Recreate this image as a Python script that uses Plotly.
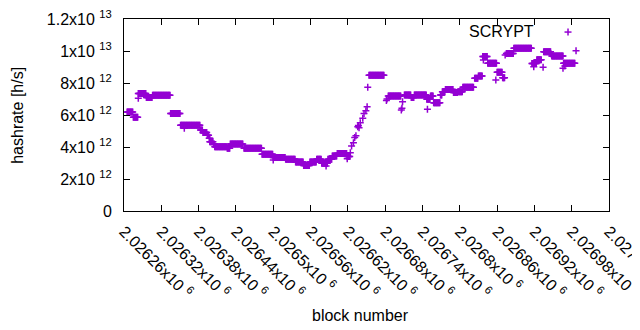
import plotly.graph_objects as go

# ---- data ----
# runs of consecutive blocks sharing one hashrate value (in 1e12 h/s)
run_start = [2026265, 2026275, 2026283, 2026296, 2026306, 2026335, 2026351, 2026383, 2026387,
             2026394, 2026397, 2026399, 2026404, 2026406, 2026426, 2026431, 2026453, 2026482,
             2026500, 2026520, 2026536, 2026549, 2026559, 2026570, 2026578, 2026588, 2026595,
             2026603, 2026619, 2026654, 2026685, 2026711, 2026722, 2026727, 2026747, 2026753,
             2026758, 2026769, 2026772, 2026777, 2026790, 2026797, 2026805, 2026824, 2026830,
             2026837, 2026845, 2026860, 2026869, 2026875, 2026887, 2026916, 2026924, 2026935,
             2026947, 2026948, 2026967]
run_end = [2026274, 2026282, 2026295, 2026305, 2026334, 2026350, 2026382, 2026386, 2026393,
           2026396, 2026398, 2026403, 2026405, 2026425, 2026430, 2026451, 2026481, 2026499,
           2026519, 2026535, 2026548, 2026558, 2026569, 2026577, 2026587, 2026594, 2026602,
           2026618, 2026623, 2026678, 2026705, 2026721, 2026726, 2026746, 2026752, 2026757,
           2026768, 2026771, 2026776, 2026789, 2026796, 2026804, 2026822, 2026829, 2026836,
           2026844, 2026859, 2026868, 2026872, 2026886, 2026915, 2026923, 2026931, 2026946,
           2026947, 2026966, 2026985]
run_value = [6.19, 5.86, 7.35, 7.10, 7.23, 6.10, 5.36, 5.06, 4.90,
             4.73, 4.54, 4.33, 4.19, 4.02, 3.92, 4.19, 3.92, 3.54,
             3.35, 3.23, 3.06, 2.85, 3.06, 3.23, 2.98, 3.23, 3.44,
             3.60, 3.40, 8.48, 7.19, 7.25, 7.10, 7.25, 6.98, 7.19,
             6.77, 7.25, 7.46, 7.60, 7.40, 7.46, 7.73, 8.29, 8.44,
             9.65, 9.23, 8.67, 8.33, 9.85, 10.17, 9.22, 9.46, 9.96,
             9.81, 9.69, 9.23]

# isolated blocks
single_block = [2026283, 2026357, 2026398, 2026500, 2026585, 2026619, 2026624, 2026626,
                2026629, 2026631, 2026633, 2026636, 2026637, 2026638, 2026640, 2026644,
                2026646, 2026649, 2026651, 2026652, 2026682, 2026683, 2026706, 2026707,
                2026708, 2026748, 2026838, 2026858, 2026873, 2026919, 2026934, 2026966,
                2026969, 2026987]
single_value = [7.04, 5.17, 4.33, 3.19, 2.81, 3.27, 3.64, 4.06,
                4.27, 4.60, 4.70, 5.27, 5.35, 5.20, 5.52, 5.79,
                6.10, 6.27, 6.52, 7.73, 6.90, 7.00, 6.31, 6.42,
                6.83, 6.36, 9.44, 8.19, 9.75, 9.02, 8.98, 8.92,
                9.06, 10.02]

x_tick_vals = [2026260, 2026320, 2026380, 2026440, 2026500, 2026560, 2026620,
               2026680, 2026740, 2026800, 2026860, 2026920, 2026980, 2027040]
x_tick_text = ["2.02626", "2.02632", "2.02638", "2.02644", "2.0265", "2.02656", "2.02662",
               "2.02668", "2.02674", "2.0268", "2.02686", "2.02692", "2.02698", "2.02704"]
y_tick_vals = [0, 2e12, 4e12, 6e12, 8e12, 1e13, 1.2e13]
y_tick_text = ["0", "2x10 <sup>12</sup>", "4x10 <sup>12</sup>", "6x10 <sup>12</sup>",
               "8x10 <sup>12</sup>", "1x10 <sup>13</sup>", "1.2x10 <sup>13</sup>"]

# ---- build series ----
xs, ys = [], []
for s, e, v in zip(run_start, run_end, run_value):
    for b in range(s, e + 1):
        xs.append(b)
        ys.append(v * 1e12)
for b, v in zip(single_block, single_value):
    xs.append(b)
    ys.append(v * 1e12)

COLOR = "#9400D3"
FONT = "Liberation Sans, Arial, sans-serif"

fig = go.Figure()
fig.add_trace(go.Scatter(
    x=xs, y=ys, mode="markers", name="SCRYPT", showlegend=False,
    marker=dict(symbol="cross-thin-open", size=5, color=COLOR,
                line=dict(color=COLOR, width=1.5)),
))

axis_common = dict(showline=True, linecolor="black", linewidth=1, mirror="ticks",
                   ticks="inside", ticklen=6, tickcolor="black", tickwidth=1,
                   showgrid=False, zeroline=False, automargin=False,
                   ticklabeloverflow="allow")

# the page body adds an 8px offset, so the figure is 8px smaller and margins shifted
fig.update_layout(
    width=632, height=322,
    margin=dict(l=116, r=31, t=11, b=119),
    paper_bgcolor="white", plot_bgcolor="white",
    font=dict(family=FONT, size=16, color="black"),
    xaxis=dict(range=[2026260, 2027040], tickvals=x_tick_vals,
               ticktext=[t + "x10 <sup>6</sup>" for t in x_tick_text],
               tickangle=45, ticklabelstandoff=4, **axis_common),
    yaxis=dict(range=[0, 1.2e13], tickvals=y_tick_vals, ticktext=y_tick_text,
               ticklabelstandoff=8, **axis_common),
    annotations=[
        dict(text="block number", xref="paper", yref="paper", x=0.487, y=-0.542,
             showarrow=False, xanchor="center", yanchor="middle"),
        dict(text="hashrate [h/s]", xref="paper", yref="paper", x=-0.221, y=0.5,
             showarrow=False, textangle=-90, xanchor="center", yanchor="middle"),
        dict(text="SCRYPT", xref="paper", yref="paper", x=0.85, y=0.934,
             showarrow=False, xanchor="right", yanchor="middle"),
    ],
    shapes=[
        dict(type="line", xref="paper", yref="paper", xsizemode="pixel", ysizemode="pixel",
             xanchor=0.9155, yanchor=0.932, x0=-3.5, x1=3.5, y0=0, y1=0,
             line=dict(color=COLOR, width=1.5)),
        dict(type="line", xref="paper", yref="paper", xsizemode="pixel", ysizemode="pixel",
             xanchor=0.9155, yanchor=0.932, x0=0, x1=0, y0=-3.5, y1=3.5,
             line=dict(color=COLOR, width=1.5)),
    ],
)

fig.write_html("out.html")
